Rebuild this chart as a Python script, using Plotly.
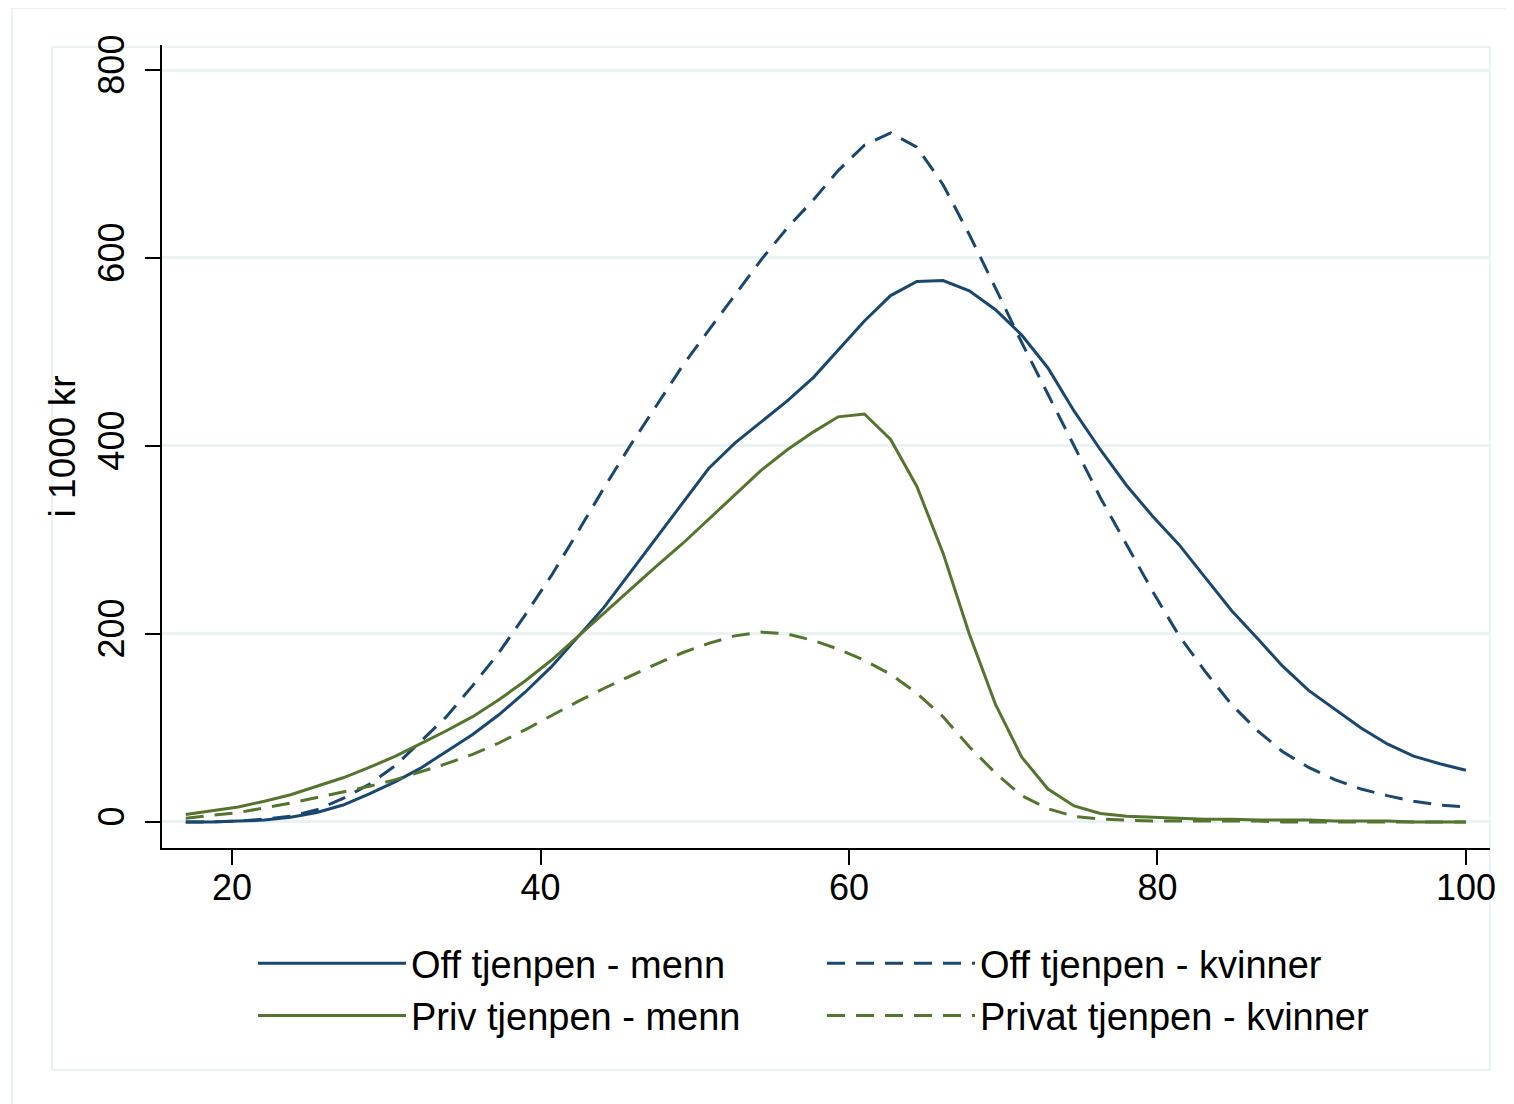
import plotly.graph_objects as go

ages = [17.0, 18.7, 20.4, 22.1, 23.8, 25.5, 27.2, 28.9, 30.6, 32.2,
        33.9, 35.6, 37.3, 39.0, 40.7, 42.4, 44.1, 45.8, 47.5, 49.2,
        50.9, 52.6, 54.3, 56.0, 57.7, 59.3, 61.0, 62.7, 64.4, 66.1,
        67.8, 69.5, 71.2, 72.9, 74.6, 76.3, 78.0, 79.7, 81.4, 83.1,
        84.8, 86.5, 88.1, 89.8, 91.5, 93.2, 94.9, 96.6, 98.3, 100.0]

off_menn = [0, 0, 1, 2, 5, 10, 18, 30, 43, 57,
            75, 93, 114, 138, 165, 196, 228, 265, 302, 340,
            376, 403, 425, 448, 473, 502, 533, 560, 575, 576,
            565, 545, 518, 483, 437, 396, 358, 325, 295, 260,
            225, 195, 166, 140, 120, 100, 83, 70, 62, 55]

off_kvinner = [0, 0, 1, 3, 6, 13, 25, 40, 60, 85,
               112, 145, 180, 220, 262, 308, 355, 400, 443, 485,
               523, 560, 598, 632, 662, 693, 720, 733, 718, 678,
               625, 568, 510, 455, 400, 345, 295, 245, 198, 160,
               125, 97, 75, 58, 45, 35, 28, 22, 18, 16]

priv_menn = [8, 12, 16, 22, 29, 38, 47, 58, 70, 83,
             97, 112, 130, 150, 172, 197, 222, 248, 272, 296,
             322, 348, 374, 396, 415, 431, 434, 407, 357, 286,
             200, 125, 69, 35, 17, 9, 6, 5, 4, 3,
             3, 2, 2, 2, 1, 1, 1, 0, 0, 0]

priv_kvinner = [4, 7, 10, 15, 20, 26, 32, 38, 45, 53,
                62, 72, 84, 98, 113, 128, 142, 155, 168, 180,
                190, 198, 202, 200, 193, 184, 172, 157, 137, 112,
                80, 52, 28, 14, 6, 3, 2, 1, 1, 1,
                1, 1, 0, 0, 0, 0, 0, 0, 0, 0]

names = ["Off tjenpen - menn", "Off tjenpen - kvinner",
         "Priv tjenpen - menn", "Privat tjenpen - kvinner"]
x_ticks = [20, 40, 60, 80, 100]
y_ticks = [0, 200, 400, 600, 800]

BLUE = "#1a476f"
GREEN = "#55752f"
GRID = "#eaf2f3"
DASH = "18px,11px"

W, H = 1514, 1104
OFF = 8  # page body margin
L, R, T, B = 162, 1490, 45, 848  # target plot-area edges on the page

fig = go.Figure()
series = [(off_menn, BLUE, "solid"), (off_kvinner, BLUE, DASH),
          (priv_menn, GREEN, "solid"), (priv_kvinner, GREEN, DASH)]
for (vals, col, dash), nm in zip(series, names):
    fig.add_trace(go.Scatter(x=ages, y=vals, mode="lines", name=nm,
                             line=dict(color=col, width=3, dash=dash)))

def px_x(p):
    return (p - L) / (R - L)

def px_y(p):
    return (B - p) / (B - T)

shapes = [
    dict(type="rect", xref="paper", yref="paper",
         x0=px_x(52), x1=px_x(1490), y0=px_y(1070), y1=px_y(47),
         line=dict(color=GRID, width=2), layer="below"),
    dict(type="rect", xref="paper", yref="paper",
         x0=px_x(12), x1=px_x(1511), y0=px_y(1112), y1=px_y(8),
         line=dict(color=GRID, width=2), layer="below"),
]

fig.update_layout(
    width=W, height=H,
    margin=dict(l=L - OFF, r=W - (R - OFF), t=T - OFF, b=H - (B - OFF),
                autoexpand=False),
    paper_bgcolor="white", plot_bgcolor="white",
    font=dict(family="Liberation Sans, Arial, sans-serif", color="black", size=36),
    shapes=shapes,
    showlegend=True,
    legend=dict(orientation="h", x=px_x(253), xanchor="left",
                y=px_y(932), yanchor="top",
                entrywidth=406, entrywidthmode="pixels",
                itemwidth=148, font=dict(size=38),
                bgcolor="rgba(0,0,0,0)", tracegroupgap=0),
)
fig.update_xaxes(range=[15.46, 101.56], tickvals=x_ticks,
                 showgrid=False, zeroline=False,
                 showline=True, linecolor="black", linewidth=2,
                 ticks="outside", ticklen=15, tickwidth=2, tickcolor="black",
                 tickfont=dict(size=36), ticklabelstandoff=-8)
fig.update_yaxes(range=[-27.7, 826.6], tickvals=y_ticks,
                 showgrid=True, gridcolor=GRID, gridwidth=3, zeroline=False,
                 showline=True, linecolor="black", linewidth=2,
                 ticks="outside", ticklen=15, tickwidth=2, tickcolor="black",
                 tickangle=-90, tickfont=dict(size=36), ticklabelstandoff=7,
                 title=dict(text="i 1000 kr", font=dict(size=37), standoff=4))

fig.write_html("out.html")
